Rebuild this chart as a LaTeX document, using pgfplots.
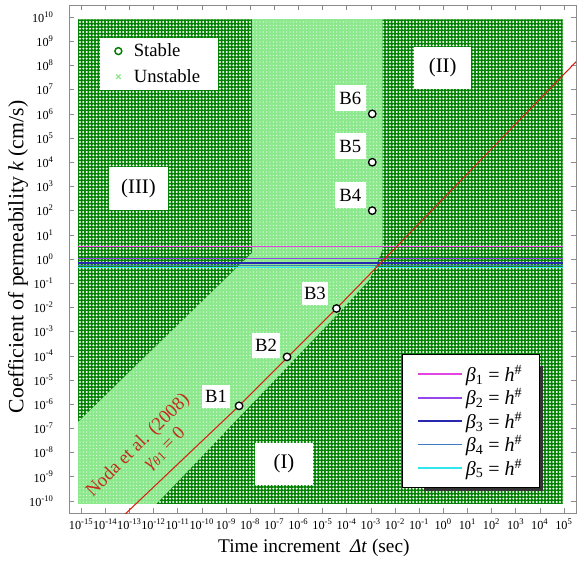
\documentclass[border=0pt]{standalone}
\usepackage{fontspec}
\setmainfont{Liberation Serif}
\usepackage{pgfplots}
\usepackage{pgfplotstable}
\pgfplotsset{compat=1.18}
\usetikzlibrary{patterns}
\definecolor{dkgreen}{RGB}{0,128,0}
\definecolor{ltgreen}{RGB}{140,232,140}
\definecolor{bone}{RGB}{225,70,225}
\definecolor{btwo}{RGB}{150,70,235}
\definecolor{bthree}{RGB}{40,40,175}
\definecolor{bfour}{RGB}{60,125,195}
\definecolor{bfive}{RGB}{50,230,240}
\definecolor{nodared}{RGB}{215,35,20}
\definecolor{nodatext}{RGB}{195,45,30}
\definecolor{framegray}{RGB}{140,140,140}
\pgfdeclarepatternformonly{holes}{\pgfqpoint{-1pt}{-1pt}}{\pgfqpoint{1pt}{1pt}}{\pgfqpoint{2.5pt}{2.5pt}}{\pgfpathcircle{\pgfqpoint{0pt}{0pt}}{0.85pt}\pgfusepath{fill}}
\pgfdeclarepatternformonly{specks}{\pgfqpoint{-1pt}{-1pt}}{\pgfqpoint{1pt}{1pt}}{\pgfqpoint{2.5pt}{2.5pt}}{\pgfpathcircle{\pgfqpoint{0pt}{0pt}}{0.5pt}\pgfusepath{fill}}
\newcommand{\tp}[1]{10\textsuperscript{#1}}
\newcommand{\bh}[1]{\textit{β}\textsubscript{#1} = \textit{h}\textsuperscript{\#}}

% grid extent (all computed points)
\pgfplotstableread{
x y
7.586e-16 7.586e-11
8.913e4 7.586e-11
8.913e4 8.128e9
7.586e-16 8.128e9
}\gridregion
% region (III): stable, upper left
\pgfplotstableread{
x y
7.586e-16 8.128e9
1.175e-8 8.128e9
1.175e-8 1.778
7.586e-16 1.905e-7
}\regionIII
% regions (I)+(II): stable, right and bottom
\pgfplotstableread{
x y
3.090e-3 8.128e9
8.913e4 8.128e9
8.913e4 7.586e-11
1.349e-12 7.586e-11
6.918e-5 8.710e-3
8.913e-4 0.138
2.754e-3 1.778
3.090e-3 2.512
}\regionItwo
% Noda et al. (2008) line
\pgfplotstableread{
x y
6.3e-14 2.7e-11
3.5e-9 8.5e-7
3.8e-5 9.0e-3
3.3e5 1.48e8
}\noda
% cases B1..B6
\pgfplotstableread{
x y
3.5e-9 8.5e-7
3.4e-7 9.0e-5
3.8e-5 9.0e-3
1.15e-3 1.0e2
1.15e-3 1.0e4
1.15e-3 1.0e6
}\cases

\begin{document}
\begin{tikzpicture}
\begin{axis}[
  scale only axis, width=380.25pt, height=381pt,
  xmode=log, ymode=log,
  xmin=3.162e-16, xmax=3.162e5, ymin=3.162e-11, ymax=3.162e10,
  xminorticks=false, yminorticks=false,
  xtick={1e-15,1e-14,1e-13,1e-12,1e-11,1e-10,1e-9,1e-8,1e-7,1e-6,1e-5,1e-4,1e-3,1e-2,1e-1,1,10,100,1000,1e4,1e5},
  xticklabels={\tp{-15},\tp{-14},\tp{-13},\tp{-12},\tp{-11},\tp{-10},\tp{-9},\tp{-8},\tp{-7},\tp{-6},\tp{-5},\tp{-4},\tp{-3},\tp{-2},\tp{-1},\tp{0},\tp{1},\tp{2},\tp{3},\tp{4},\tp{5}},
  ytick={1e-10,1e-9,1e-8,1e-7,1e-6,1e-5,1e-4,1e-3,1e-2,1e-1,1,10,100,1000,1e4,1e5,1e6,1e7,1e8,1e9,1e10},
  yticklabels={\tp{-10},\tp{-9},\tp{-8},\tp{-7},\tp{-6},\tp{-5},\tp{-4},\tp{-3},\tp{-2},\tp{-1},\tp{0},\tp{1},\tp{2},\tp{3},\tp{4},\tp{5},\tp{6},\tp{7},\tp{8},\tp{9},\tp{10}},
  ticklabel style={font=\fontsize{9.2}{10}\selectfont},
  xticklabel style={yshift=-1pt},
  yticklabel style={xshift=-8pt},
  axis line style={framegray},
  every tick/.style={framegray},
  major tick length=3.75pt,
  xlabel={Time increment\ \ \textit{Δt} (sec)},
  ylabel={Coefficient of permeability \textit{k} (cm/s)},
  xlabel style={font=\fontsize{14.5}{16}\selectfont, at={(axis description cs:0.483,-0.069)}, anchor=center},
  ylabel style={font=\fontsize{16.3}{18}\selectfont, at={(axis description cs:-0.1006,0.504)}, anchor=center},
]
% unstable area (whole computed grid)
\addplot[draw=none, fill=ltgreen] table {\gridregion} -- cycle;
\addplot[draw=none, pattern=specks, pattern color=white!75!ltgreen] table {\gridregion} -- cycle;
% stable areas
\addplot[draw=none, fill=dkgreen] table {\regionIII} -- cycle;
\addplot[draw=none, pattern=holes, pattern color=white] table {\regionIII} -- cycle;
\addplot[draw=none, fill=dkgreen] table {\regionItwo} -- cycle;
\addplot[draw=none, pattern=holes, pattern color=white] table {\regionItwo} -- cycle;
% beta lines
\addplot[bone, line width=0.9pt] coordinates {(7.586e-16,3.3) (8.913e4,3.3)};
\addplot[btwo, line width=0.9pt] coordinates {(7.586e-16,1.04) (8.913e4,1.04)};
\addplot[bthree, line width=0.9pt] coordinates {(7.586e-16,0.69) (8.913e4,0.69)};
\addplot[bfour, line width=0.9pt] coordinates {(7.586e-16,0.55) (8.913e4,0.55)};
\addplot[bfive, line width=0.9pt] coordinates {(7.586e-16,0.43) (8.913e4,0.43)};
% Noda line
\addplot[nodared, line width=0.8pt] table {\noda};
% cases
\addplot[only marks, mark=*, mark size=2.8pt, mark options={fill=white, draw=black, line width=1pt}] table {\cases};
% labels
\begin{scope}[every node/.style={fill=white, inner sep=0pt}]
\node[minimum width=44pt, minimum height=32pt, font=\fontsize{15.5}{17}\selectfont] at (rel axis cs:0.137,0.639) {(III)};
\node[minimum width=43pt, minimum height=31.5pt, font=\fontsize{15.5}{17}\selectfont] at (rel axis cs:0.737,0.876) {(II)};
\node[minimum width=43.5pt, minimum height=31.5pt, font=\fontsize{15.5}{17}\selectfont] at (rel axis cs:0.424,0.0965) {(I)};
\node[minimum width=21pt, minimum height=17.5pt, font=\fontsize{14}{15}\selectfont] at (rel axis cs:0.290,0.230) {B1};
\node[minimum width=21pt, minimum height=18.5pt, font=\fontsize{14}{15}\selectfont] at (rel axis cs:0.3885,0.330) {B2};
\node[minimum width=20pt, minimum height=17.5pt, font=\fontsize{14}{15}\selectfont] at (rel axis cs:0.485,0.4325) {B3};
\node[minimum width=23pt, minimum height=19.5pt, font=\fontsize{14}{15}\selectfont] at (rel axis cs:0.555,0.626) {B4};
\node[minimum width=23pt, minimum height=19.5pt, font=\fontsize{14}{15}\selectfont] at (rel axis cs:0.555,0.7215) {B5};
\node[minimum width=23pt, minimum height=19.5pt, font=\fontsize{14}{15}\selectfont] at (rel axis cs:0.555,0.816) {B6};
\end{scope}
\node[rotate=45, text=nodatext, align=center, inner sep=0pt, font=\fontsize{14}{15.5}\selectfont] at (rel axis cs:0.1511,0.1179) {Noda et al. (2008)\\\hspace*{25.5pt}\textit{γ}\textsubscript{\textit{θ}1} = 0};
\end{axis}
% second axis: legend of the beta lines, with its shadow
\begin{axis}[
  scale only axis, width=380.25pt, height=381pt,
  hide axis, xmin=0, xmax=1, ymin=0, ymax=1,
  legend style={at={(0.929,0.0492)}, anchor=south east, draw=black, line width=0.4pt, fill=white,
    font=\fontsize{15}{16}\selectfont, cells={anchor=west}, inner xsep=11pt, inner ysep=6pt, row sep=0pt},
  legend image code/.code={\draw[#1, line width=1.4pt] (0pt,0pt) -- (33pt,0pt);},
]
\fill[black!80] (rel axis cs:0.70,0.0433) rectangle (rel axis cs:0.935,0.29);
\addlegendimage{bone}
\addlegendentry{\bh{1}}
\addlegendimage{btwo}
\addlegendentry{\bh{2}}
\addlegendimage{bthree}
\addlegendentry{\bh{3}}
\addlegendimage{bfour}
\addlegendentry{\bh{4}}
\addlegendimage{bfive}
\addlegendentry{\bh{5}}
\end{axis}
% third axis: marker legend
\begin{axis}[
  scale only axis, width=380.25pt, height=381pt,
  hide axis, xmin=0, xmax=1, ymin=0, ymax=1,
  legend style={at={(0.0611,0.935)}, anchor=north west, draw=none, fill=white,
    font=\fontsize{14}{15}\selectfont, cells={anchor=west}, inner xsep=11pt, inner ysep=2pt, row sep=4pt,
    /tikz/every odd column/.append style={column sep=7pt}},
]
\addlegendimage{only marks, mark=o, mark size=2.6pt, mark options={dkgreen, line width=1.1pt}}
\addlegendentry{Stable}
\addlegendimage{only marks, mark=x, mark size=2.4pt, mark options={ltgreen, line width=0.9pt}}
\addlegendentry{Unstable}
\end{axis}
\pgfresetboundingbox
\path[use as bounding box] (-51.75pt,-36.75pt) rectangle (381pt,384.75pt);
\end{tikzpicture}
\end{document}
